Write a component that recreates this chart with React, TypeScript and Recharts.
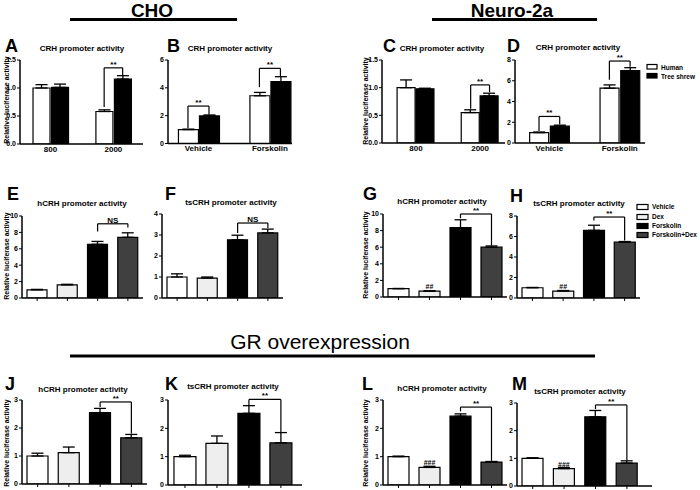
import React from 'react';
import { BarChart, Bar, Cell, XAxis, YAxis, ErrorBar, ReferenceLine, LabelList } from 'recharts';

const FONT = '"Liberation Sans", Arial, Helvetica, sans-serif';

// A-D: human vs tree shrew CRH promoter
const doseLabels = ['800', '2000'];
const treatLabels = ['Vehicle', 'Forskolin'];

const choDoseHuman = [1.0, 0.58];
const choDoseHumanErr = [0.06, 0.03];
const choDoseShrew = [1.01, 1.16];
const choDoseShrewErr = [0.06, 0.06];

const choTreatHuman = [1.0, 3.43];
const choTreatHumanErr = [0.03, 0.24];
const choTreatShrew = [1.98, 4.44];
const choTreatShrewErr = [0.07, 0.36];

const n2aDoseHuman = [1.0, 0.55];
const n2aDoseHumanErr = [0.14, 0.05];
const n2aDoseShrew = [0.98, 0.85];
const n2aDoseShrewErr = [0.01, 0.05];

const n2aTreatHuman = [1.0, 5.28];
const n2aTreatHumanErr = [0.06, 0.32];
const n2aTreatShrew = [1.62, 6.98];
const n2aTreatShrewErr = [0.1, 0.28];

// E-M: Vehicle, Dex, Forskolin, Forskolin+Dex
const conditions = ['Vehicle', 'Dex', 'Forskolin', 'Forskolin+Dex'];

const choHcrh = [1.0, 1.6, 6.55, 7.4];
const choHcrhErr = [0.05, 0.07, 0.35, 0.55];
const choTscrh = [1.0, 0.95, 2.77, 3.1];
const choTscrhErr = [0.15, 0.05, 0.22, 0.18];

const n2aHcrh = [1.0, 0.7, 8.35, 6.0];
const n2aHcrhErr = [0.03, 0.05, 0.95, 0.15];
const n2aTscrh = [1.0, 0.68, 6.6, 5.45];
const n2aTscrhErr = [0.03, 0.05, 0.5, 0.06];

const grChoHcrh = [1.0, 1.12, 2.55, 1.65];
const grChoHcrhErr = [0.1, 0.2, 0.15, 0.12];
const grChoTscrh = [1.0, 1.47, 2.53, 1.49];
const grChoTscrhErr = [0.05, 0.26, 0.27, 0.36];

const grN2aHcrh = [1.0, 0.62, 2.43, 0.81];
const grN2aHcrhErr = [0.02, 0.04, 0.08, 0.02];
const grN2aTscrh = [1.0, 0.63, 2.5, 0.83];
const grN2aTscrhErr = [0.02, 0.04, 0.23, 0.08];

const dexMarks2 = ['', '##', '', ''];
const dexMarks3 = ['', '###', '', ''];

// significance brackets: bar indices a->b, heights in data units
const sigA = [{ a: 2, b: 3, top: 1.36, left: 0.66, right: 1.22, text: '**' }];
const sigB = [
  { a: 0, b: 1, top: 2.69, left: 1.1, right: 2.08, text: '**' },
  { a: 2, b: 3, top: 5.4, left: 4.05, right: 4.85, text: '**' },
];
const sigC = [{ a: 2, b: 3, top: 1.05, left: 0.62, right: 0.92, text: '**' }];
const sigD = [
  { a: 0, b: 1, top: 2.56, left: 1.15, right: 1.8, text: '**' },
  { a: 2, b: 3, top: 7.9, left: 6.1, right: 7.35, text: '**' },
];
const sigE = [{ a: 2, b: 3, top: 9.05, left: 8.1, right: 8.6, text: 'NS' }];
const sigF = [{ a: 2, b: 3, top: 3.57, left: 3.1, right: 3.33, text: 'NS' }];
const sigG = [{ a: 2, b: 3, top: 10, left: 9.5, right: 6.2, text: '**' }];
const sigH = [{ a: 2, b: 3, top: 7.9, left: 7.55, right: 5.6, text: '**' }];
const sigJ = [{ a: 2, b: 3, top: 2.93, left: 2.75, right: 1.8, text: '**' }];
const sigK = [{ a: 2, b: 3, top: 3.02, left: 2.82, right: 1.85, text: '**' }];
const sigL = [{ a: 2, b: 3, top: 2.75, left: 2.6, right: 0.85, text: '**' }];
const sigM = [{ a: 2, b: 3, top: 2.93, left: 2.78, right: 0.93, text: '**' }];

const GROUP_STEP = 3.4;
const AX = 22;
const MT = 14;
const MR = 4;
const XH = 14;

const pairFills = ['#ffffff', '#000000', '#ffffff', '#000000'];
const quadFills = ['#ffffff', '#eeeeee', '#000000', '#404040'];

const pairRows = (h: number[], he: number[], s: number[], se: number[]) =>
  h.flatMap((v, i) => [
    { x: i * GROUP_STEP, value: v, err: [0, he[i]], mark: '' },
    { x: i * GROUP_STEP + 1, value: s[i], err: [0, se[i]], mark: '' },
  ]);

const quadRows = (v: number[], e: number[], marks?: string[]) =>
  v.map((val, i) => ({ x: i + 1, value: val, err: [0, e[i]], mark: marks ? marks[i] : '', name: conditions[i] }));

const bracket = (s: any, rows: any[], k: number) => {
  const xa = rows[s.a].x;
  const xb = rows[s.b].x;
  const line = { stroke: '#000', strokeWidth: 1.2, ifOverflow: 'visible' as const };
  return [
    <ReferenceLine key={`l${k}`} segment={[{ x: xa, y: s.left }, { x: xa, y: s.top }]} {...line} />,
    <ReferenceLine
      key={`t${k}`}
      segment={[{ x: xa, y: s.top }, { x: xb, y: s.top }]}
      {...line}
      label={{ value: s.text, position: 'top', offset: 1, fontSize: 8, fontWeight: 700, fill: '#000', fontFamily: FONT }}
    />,
    <ReferenceLine key={`r${k}`} segment={[{ x: xb, y: s.top }, { x: xb, y: s.right }]} {...line} />,
  ];
};

// "##" marks above the Dex bar
const MarkLabel = (p: any) => {
  if (!p.value) return null;
  return (
    <text x={p.x + p.width / 2} y={p.y - 2} textAnchor="middle" fill="#000" fontSize={7} fontWeight={700} fontFamily={FONT}>
      {p.value}
    </text>
  );
};

const Panel = ({ box, rows, fills, xDomain, xTicks, xLabels, yMax, yTicks, decimals = 0, barSize, sig, marks = false }: any) => {
  const [x0, x1, yT, yB] = box;
  const width = x1 - x0 + AX + MR;
  const height = yB - yT + MT + XH;
  return (
    <div style={{ position: 'absolute', left: x0 - AX, top: yT - MT }}>
      <BarChart width={width} height={height} data={rows} margin={{ top: MT, right: MR, bottom: 0, left: 0 }}>
        <XAxis
          type="number"
          dataKey="x"
          domain={xDomain}
          ticks={xTicks}
          interval={0}
          allowDataOverflow
          height={XH}
          tickFormatter={(v: number, i: number) => (xLabels ? xLabels[i] : '')}
          tickSize={xLabels ? 0 : 3}
          tickMargin={xLabels ? 2 : 0}
          tickLine={xLabels ? false : { stroke: '#000', strokeWidth: 1 }}
          axisLine={{ stroke: '#000', strokeWidth: 1.5 }}
          tick={{ fontSize: 8, fontWeight: 700, fill: '#000', fontFamily: FONT }}
        />
        <YAxis
          type="number"
          domain={[0, yMax]}
          ticks={yTicks}
          interval={0}
          allowDataOverflow
          width={AX}
          tickSize={3}
          tickMargin={1}
          tickFormatter={(v: number) => v.toFixed(decimals)}
          tickLine={{ stroke: '#000', strokeWidth: 1 }}
          axisLine={{ stroke: '#000', strokeWidth: 1.5 }}
          tick={{ fontSize: 7, fontWeight: 700, fill: '#000', fontFamily: FONT }}
        />
        <Bar dataKey="value" barSize={barSize} isAnimationActive={false} stroke="#000" strokeWidth={1.2}>
          {rows.map((r: any, i: number) => (
            <Cell key={i} fill={fills[i]} />
          ))}
          <ErrorBar dataKey="err" width={6} stroke="#000" strokeWidth={1.3} direction="y" />
          {marks && <LabelList dataKey="mark" content={MarkLabel} />}
        </Bar>
        {sig.flatMap((s: any, k: number) => bracket(s, rows, k))}
      </BarChart>
    </div>
  );
};

const letters = [
  ['A', 5, 52], ['B', 167, 52], ['C', 383, 52], ['D', 507, 52],
  ['E', 7, 200], ['F', 165, 200], ['G', 363, 200], ['H', 510, 202],
  ['J', 5, 390], ['K', 165, 390], ['L', 362, 390], ['M', 512, 390],
];

const subtitles = [
  ['CRH promoter activity', 82, 51], ['CRH promoter activity', 230, 51],
  ['CRH promoter activity', 442, 51], ['CRH promoter activity', 578, 50],
  ['hCRH promoter activity', 82, 206], ['tsCRH promoter activity', 231, 205],
  ['hCRH promoter activity', 442, 204], ['tsCRH promoter activity', 579, 206],
  ['hCRH promoter activity', 83, 392], ['tsCRH promoter activity', 233, 389],
  ['hCRH promoter activity', 442, 391], ['tsCRH promoter activity', 580, 394],
];

const yLabelSpots = [[6, 100], [365, 101], [6, 256], [365, 255], [6, 443], [365, 443]];

const App = () => {
  const rA = pairRows(choDoseHuman, choDoseHumanErr, choDoseShrew, choDoseShrewErr);
  const rB = pairRows(choTreatHuman, choTreatHumanErr, choTreatShrew, choTreatShrewErr);
  const rC = pairRows(n2aDoseHuman, n2aDoseHumanErr, n2aDoseShrew, n2aDoseShrewErr);
  const rD = pairRows(n2aTreatHuman, n2aTreatHumanErr, n2aTreatShrew, n2aTreatShrewErr);
  const pairTicks = [0.5, 0.5 + GROUP_STEP];
  const quadTicks = [1, 2, 3, 4];

  return (
    <div style={{ position: 'absolute', left: 0, top: 0, width: 700, height: 490, background: '#fff', fontFamily: FONT, overflow: 'hidden' }}>
      <Panel box={[20, 143, 60, 144]} rows={rA} fills={pairFills} xDomain={[-1.15, 5.5]} xTicks={pairTicks} xLabels={doseLabels}
        yMax={1.5} yTicks={[0, 0.5, 1, 1.5]} decimals={1} barSize={17} sig={sigA} />
      <Panel box={[168, 292, 60, 143.5]} rows={rB} fills={pairFills} xDomain={[-0.95, 4.95]} xTicks={pairTicks} xLabels={treatLabels}
        yMax={6} yTicks={[0, 2, 4, 6]} barSize={20} sig={sigB} />
      <Panel box={[382, 505, 60, 143]} rows={rC} fills={pairFills} xDomain={[-1.3, 5.22]} xTicks={pairTicks} xLabels={doseLabels}
        yMax={1.5} yTicks={[0, 0.5, 1, 1.5]} decimals={1} barSize={18} sig={sigC} />
      <Panel box={[515, 645, 60, 143]} rows={rD} fills={pairFills} xDomain={[-1.16, 5.12]} xTicks={pairTicks} xLabels={treatLabels}
        yMax={8} yTicks={[0, 2, 4, 6, 8]} barSize={19} sig={sigD} />

      <Panel box={[22, 143, 216, 298]} rows={quadRows(choHcrh, choHcrhErr)} fills={quadFills} xDomain={[0.5, 4.5]} xTicks={quadTicks}
        yMax={10} yTicks={[0, 2, 4, 6, 8, 10]} barSize={20} sig={sigE} />
      <Panel box={[162, 283, 214, 298]} rows={quadRows(choTscrh, choTscrhErr)} fills={quadFills} xDomain={[0.5, 4.5]} xTicks={quadTicks}
        yMax={4} yTicks={[0, 1, 2, 3, 4]} barSize={20} sig={sigF} />
      <Panel box={[383, 507, 214, 297]} rows={quadRows(n2aHcrh, n2aHcrhErr, dexMarks2)} fills={quadFills} xDomain={[0.5, 4.5]} xTicks={quadTicks}
        yMax={10} yTicks={[0, 2, 4, 6, 8, 10]} barSize={21} sig={sigG} marks />
      <Panel box={[517, 640, 216, 298]} rows={quadRows(n2aTscrh, n2aTscrhErr, dexMarks2)} fills={quadFills} xDomain={[0.5, 4.5]} xTicks={quadTicks}
        yMax={8} yTicks={[0, 2, 4, 6, 8]} barSize={21} sig={sigH} marks />

      <Panel box={[22, 147, 400, 484]} rows={quadRows(grChoHcrh, grChoHcrhErr)} fills={quadFills} xDomain={[0.5, 4.5]} xTicks={quadTicks}
        yMax={3} yTicks={[0, 1, 2, 3]} barSize={21} sig={sigJ} />
      <Panel box={[168, 302, 400, 485]} rows={quadRows(grChoTscrh, grChoTscrhErr)} fills={quadFills} xDomain={[0.47, 4.66]} xTicks={quadTicks}
        yMax={3} yTicks={[0, 1, 2, 3]} barSize={22} sig={sigK} />
      <Panel box={[383, 507, 400, 485]} rows={quadRows(grN2aHcrh, grN2aHcrhErr, dexMarks3)} fills={quadFills} xDomain={[0.5, 4.5]} xTicks={quadTicks}
        yMax={3} yTicks={[0, 1, 2, 3]} barSize={21} sig={sigL} marks />
      <Panel box={[517, 652, 403, 486]} rows={quadRows(grN2aTscrh, grN2aTscrhErr, dexMarks3)} fills={quadFills} xDomain={[0.5, 4.8]} xTicks={quadTicks}
        yMax={3} yTicks={[0, 1, 2, 3]} barSize={21} sig={sigM} marks />

      <svg width={700} height={490} style={{ position: 'absolute', left: 0, top: 0, pointerEvents: 'none' }} fontFamily={FONT}>
        <text x={152} y={17} textAnchor="middle" fontSize={19} fontWeight={700}>CHO</text>
        <line x1={70} y1={19.5} x2={237} y2={19.5} stroke="#000" strokeWidth={3} />
        <text x={512} y={17} textAnchor="middle" fontSize={19} fontWeight={700}>Neuro-2a</text>
        <line x1={432} y1={19.5} x2={597} y2={19.5} stroke="#000" strokeWidth={3} />
        <text x={320} y={349} textAnchor="middle" fontSize={21}>GR overexpression</text>
        <line x1={70} y1={356} x2={595} y2={356} stroke="#000" strokeWidth={3} />

        {letters.map(([t, x, y]) => (
          <text key={t as string} x={x as number} y={y as number} fontSize={18} fontWeight={700}>{t}</text>
        ))}
        {subtitles.map(([t, x, y], i) => (
          <text key={i} x={x as number} y={y as number} textAnchor="middle" fontSize={8} fontWeight={700}>{t}</text>
        ))}
        {yLabelSpots.map(([x, y], i) => (
          <text key={i} transform={`translate(${x},${y}) rotate(-90)`} textAnchor="middle" dominantBaseline="central" fontSize={7} fontWeight={700}>
            Relative luciferase activity
          </text>
        ))}

        <rect x={647} y={64.5} width={10} height={4.5} fill="#fff" stroke="#000" strokeWidth={1.2} />
        <text x={661} y={69.5} fontSize={6.5} fontWeight={700}>Human</text>
        <rect x={647} y={73.5} width={10} height={4.5} fill="#000" stroke="#000" strokeWidth={1.2} />
        <text x={661} y={78.5} fontSize={6.5} fontWeight={700}>Tree shrew</text>

        {conditions.map((c, i) => {
          const cy = [207, 217, 226, 235][i];
          return (
            <g key={c}>
              <rect x={637} y={cy - 2.5} width={11} height={5} fill={quadFills[i]} stroke="#000" strokeWidth={1.2} />
              <text x={652} y={cy + 2.3} fontSize={6.5} fontWeight={700}>{c}</text>
            </g>
          );
        })}
      </svg>
    </div>
  );
};

export default App;
